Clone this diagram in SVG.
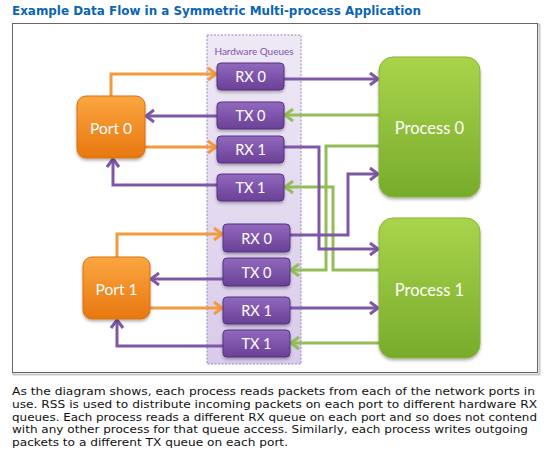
<svg xmlns="http://www.w3.org/2000/svg" width="548" height="456" viewBox="0 0 548 456">
<style>
.title{font-family:"DejaVu Sans","Liberation Sans",sans-serif;font-weight:bold;font-size:12px;fill:#0a65b5}
.para{font-family:"DejaVu Sans","Liberation Sans",sans-serif;font-size:11px;fill:#111}
.q rect{fill:url(#gQ);stroke:#553180;stroke-width:1}
.q text{font-family:Lato,"Open Sans",sans-serif;font-size:14.5px;fill:#fff;text-anchor:middle}
.port rect{fill:url(#gO);stroke:#d77010;stroke-width:1}
.port text{font-family:Lato,"Open Sans",sans-serif;font-size:15.5px;fill:#fff;text-anchor:middle}
.proc rect{fill:url(#gG);stroke:#86b33a;stroke-width:1}
.proc text{font-family:Lato,"Open Sans",sans-serif;font-size:16.5px;fill:#fff;text-anchor:middle}
.c{fill:none;stroke-width:3;stroke-linejoin:miter}
.o{stroke:#f39a3e;marker-end:url(#aO)}
.p{stroke:#7c58a6;marker-end:url(#aP)}
.g{stroke:#93bd58;marker-end:url(#aG)}
</style>
<defs>
<linearGradient id="gQ" x1="0" y1="0" x2="0" y2="1"><stop offset="0" stop-color="#9169bd"/><stop offset="1" stop-color="#6a4097"/></linearGradient>
<linearGradient id="gO" x1="0" y1="0" x2="0" y2="1"><stop offset="0" stop-color="#fba640"/><stop offset="1" stop-color="#e8770f"/></linearGradient>
<linearGradient id="gG" x1="0" y1="0" x2="0" y2="1"><stop offset="0" stop-color="#a9d44c"/><stop offset="1" stop-color="#78ab2b"/></linearGradient>
<linearGradient id="gH" x1="0" y1="0" x2="0" y2="1"><stop offset="0" stop-color="#efe9f6"/><stop offset="1" stop-color="#d9cbea"/></linearGradient>
<filter id="sh" x="-20%" y="-20%" width="140%" height="150%"><feDropShadow dx="0" dy="2" stdDeviation="1.5" flood-color="#000" flood-opacity="0.3"/></filter>
<marker id="aO" markerUnits="userSpaceOnUse" markerWidth="14" markerHeight="16" refX="11" refY="7" orient="auto" overflow="visible"><path d="M3,1 L11,7 L3,13" fill="none" stroke="#f39a3e" stroke-width="3"/></marker>
<marker id="aP" markerUnits="userSpaceOnUse" markerWidth="14" markerHeight="16" refX="11" refY="7" orient="auto" overflow="visible"><path d="M3,1 L11,7 L3,13" fill="none" stroke="#7c58a6" stroke-width="3"/></marker>
<marker id="aG" markerUnits="userSpaceOnUse" markerWidth="14" markerHeight="16" refX="11" refY="7" orient="auto" overflow="visible"><path d="M3,1 L11,7 L3,13" fill="none" stroke="#93bd58" stroke-width="3"/></marker>
</defs>
<rect width="548" height="456" fill="#fff"/>
<text class="title" x="12" y="15" textLength="409" lengthAdjust="spacingAndGlyphs">Example Data Flow in a Symmetric Multi-process Application</text>
<rect x="13.5" y="24.5" width="526" height="350" fill="none" stroke="#c8c8c8" stroke-width="2"/>
<rect x="12.5" y="23.5" width="525" height="349" fill="#fff" stroke="#666" stroke-width="1"/>
<g id="hwq">
<rect x="207" y="35" width="94" height="329" fill="url(#gH)" stroke="#9a84bd" stroke-width="1" stroke-dasharray="2,1.5"/>
<text x="254" y="54.5" font-family="Lato,'Open Sans',sans-serif" font-size="10" fill="#7a55a8" text-anchor="middle" textLength="79" lengthAdjust="spacingAndGlyphs">Hardware Queues</text>
</g>
<g id="connectors">
<path class="c o" d="M111,96 V74 H216"/>
<path class="c o" d="M145,147 H216"/>
<path class="c o" d="M117,257 V234 H222"/>
<path class="c o" d="M150,308 H222"/>
<path class="c p" d="M217,116 H146"/>
<path class="c p" d="M217,185 H113 V159"/>
<path class="c p" d="M223,279 H151"/>
<path class="c p" d="M223,346 H117 V320"/>
<path class="c g" d="M379,115 H285"/>
<path class="c g" d="M379,146 H326 V270 H291"/>
<path class="c g" d="M379,270 H333 V187 H285"/>
<path class="c g" d="M379,343 H291"/>
<path class="c p" d="M284,79 H378"/>
<path class="c p" d="M284,147 H319 V249 H378"/>
<path class="c p" d="M290,235 H348 V174 H378"/>
<path class="c p" d="M290,308 H378"/>
</g>
<g id="port0" class="port"><rect x="77" y="96" width="68" height="62" rx="9" filter="url(#sh)"/><text x="111" y="134">Port 0</text></g>
<g id="port1" class="port"><rect x="83" y="257" width="67" height="62" rx="9" filter="url(#sh)"/><text x="116.5" y="294.5">Port 1</text></g>
<g id="p0rx0" class="q"><rect x="217" y="63" width="67" height="27" rx="4" filter="url(#sh)"/><text x="250.5" y="82">RX 0</text></g>
<g id="p0tx0" class="q"><rect x="217" y="102" width="67" height="27" rx="4" filter="url(#sh)"/><text x="250.5" y="121">TX 0</text></g>
<g id="p0rx1" class="q"><rect x="217" y="136" width="67" height="27" rx="4" filter="url(#sh)"/><text x="250.5" y="155">RX 1</text></g>
<g id="p0tx1" class="q"><rect x="217" y="174" width="67" height="27" rx="4" filter="url(#sh)"/><text x="250.5" y="193">TX 1</text></g>
<g id="p1rx0" class="q"><rect x="223" y="224" width="67" height="28" rx="4" filter="url(#sh)"/><text x="256.5" y="243.5">RX 0</text></g>
<g id="p1tx0" class="q"><rect x="223" y="258" width="67" height="28" rx="4" filter="url(#sh)"/><text x="256.5" y="277.5">TX 0</text></g>
<g id="p1rx1" class="q"><rect x="223" y="297" width="67" height="27" rx="4" filter="url(#sh)"/><text x="256.5" y="316">RX 1</text></g>
<g id="p1tx1" class="q"><rect x="223" y="330" width="67" height="27" rx="4" filter="url(#sh)"/><text x="256.5" y="349">TX 1</text></g>
<g id="process0" class="proc"><rect x="379" y="57" width="101" height="140" rx="14" filter="url(#sh)"/><text x="429.5" y="134">Process 0</text></g>
<g id="process1" class="proc"><rect x="379" y="218" width="101" height="140" rx="14" filter="url(#sh)"/><text x="429.5" y="295.5">Process 1</text></g>
<text class="para" x="12" y="395" textLength="523" lengthAdjust="spacingAndGlyphs">As the diagram shows, each process reads packets from each of the network ports in</text>
<text class="para" x="12" y="407.8" textLength="525" lengthAdjust="spacingAndGlyphs">use. RSS is used to distribute incoming packets on each port to different hardware RX</text>
<text class="para" x="12" y="420.6" textLength="525" lengthAdjust="spacingAndGlyphs">queues. Each process reads a different RX queue on each port and so does not contend</text>
<text class="para" x="12" y="433.4" textLength="516" lengthAdjust="spacingAndGlyphs">with any other process for that queue access. Similarly, each process writes outgoing</text>
<text class="para" x="12" y="446.2" textLength="276" lengthAdjust="spacingAndGlyphs">packets to a different TX queue on each port.</text>
</svg>
